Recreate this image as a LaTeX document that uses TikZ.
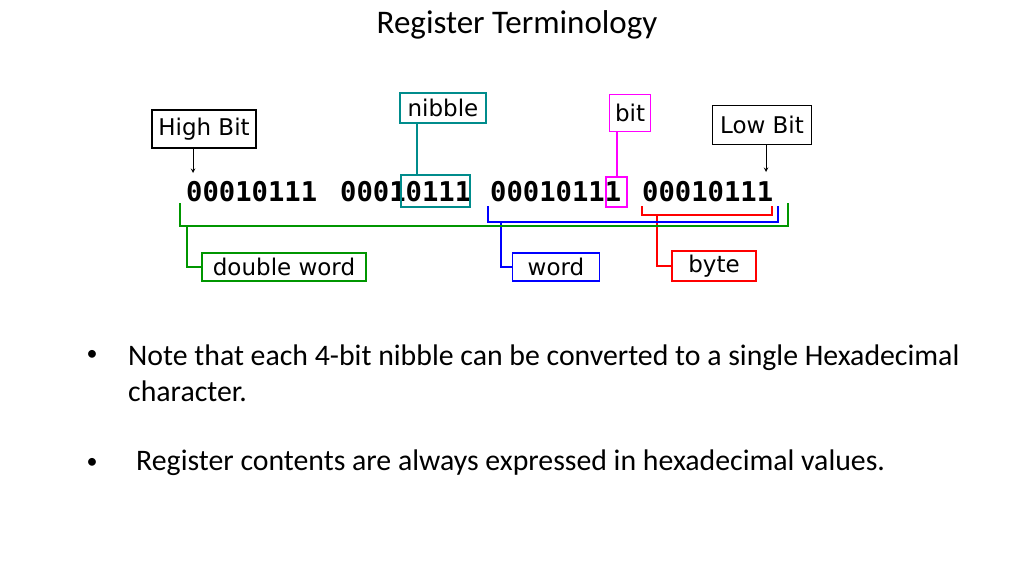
\documentclass[tikz,border=0pt]{standalone}
\usepackage{fontspec}
\setmainfont{Carlito}
\newfontfamily\lbl{DejaVu Sans}
\newfontfamily\bin{DejaVu Sans Mono}
\begin{document}
\begin{tikzpicture}[x=1pt,y=-1pt,
  lab/.style={draw=#1,line width=1.5pt,inner sep=0pt,font=\lbl\fontsize{23}{23}\selectfont},
  grp/.style={inner sep=0pt,anchor=west,font=\bin\bfseries\fontsize{27.2}{27}\selectfont},
  tx/.style={anchor=west,inner sep=0pt,font=\fontsize{29.8}{36}\selectfont},
  bul/.style={inner sep=0pt,font=\fontsize{22}{22}\selectfont}]
\useasboundingbox (0,0) rectangle (1024,576);
\definecolor{teal2}{RGB}{0,140,140}
\definecolor{mag}{RGB}{255,0,255}
\definecolor{grn}{RGB}{0,150,0}
\node[font=\fontsize{33}{36}\selectfont] (title) at (517,25) {Register Terminology};
% binary groups
\node[grp] (g1) at (186,192) {00010111};
\node[grp] (g2) at (340,192) {00010111};
\node[grp] (g3) at (490,192) {00010111};
\node[grp] (g4) at (642,192) {00010111};
% labels
\node[lab=black,minimum width=104pt,minimum height=38pt] (hb) at (204,129) {High Bit};
\node[lab=black,minimum width=99pt,minimum height=39pt] (lb) at (762,125) {Low Bit};
\node[lab=teal2,minimum width=86pt,minimum height=30pt] (nib) at (443,108) {nibble};
\node[lab=mag,minimum width=41pt,minimum height=37pt] (bit) at (630,113) {bit};
\node[lab=grn,minimum width=164pt,minimum height=28pt] (dw) at (284,267) {double word};
\node[lab=blue,minimum width=87pt,minimum height=28pt] (wd) at (556,267) {word};
\node[lab=red,minimum width=84pt,minimum height=30pt] (by) at (714,266) {byte};
% highlight boxes
\draw[teal2,line width=1.5pt] (401,175) rectangle (470,207);
\draw[mag,line width=1.5pt] (606,177) rectangle (627,207);
\coordinate (nb) at (417,175);
\coordinate (bb) at (617,177);
\draw[teal2,line width=1.5pt] (nib.south -| nb) -- (nb);
\draw[mag,line width=1.5pt] (bit.south -| bb) -- (bb);
% arrows
\coordinate (ha) at (193,173);
\coordinate (la) at (766,172);
\draw[-stealth,line width=1pt] (hb.south -| ha) -- (ha);
\draw[-stealth,line width=1pt] (lb.south -| la) -- (la);
% brackets
\draw[red,line width=1.5pt] (642,206) -- (642,215) -- (772,215) -- (772,206);
\coordinate (rs) at (657,215);
\draw[red,line width=1.5pt] (rs) |- (by.west);
\draw[blue,line width=1.5pt] (488,206) -- (488,222) -- (778,222) -- (778,206);
\coordinate (bs) at (501,222);
\draw[blue,line width=1.5pt] (bs) |- (wd.west);
\draw[grn,line width=1.5pt] (180,203) -- (180,226) -- (788,226) -- (788,203);
\coordinate (gs) at (187,226);
\draw[grn,line width=1.5pt] (gs) |- (dw.west);
% bullets
\node[bul] (b1) at (92,355) {\textbullet};
\node[tx,align=left] (t1) at (128,373) {Note that each 4-bit nibble can be converted to a single Hexadecimal\\character.};
\node[bul] (b2) at (92,463) {\textbullet};
\node[tx] (t2) at (136,463) {Register contents are always expressed in hexadecimal values.};
\end{tikzpicture}
\end{document}
